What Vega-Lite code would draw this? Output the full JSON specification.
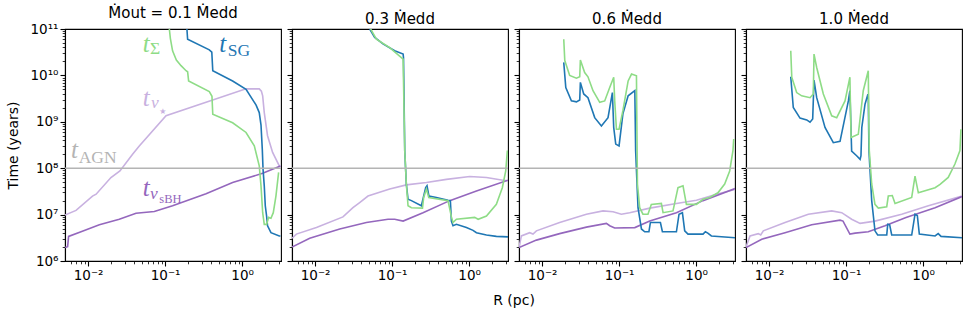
{
  "$schema": "https://vega.github.io/schema/vega-lite/v6.json",
  "background": "white",
  "padding": {"left": 6, "top": 5, "right": 3, "bottom": 1},
  "spacing": 11,
  "bounds": "flush",
  "data": {"values": [
    {"p":1,"k":"nustar","R":0.00501,"T":9.77e6},{"p":1,"k":"nustar","R":0.00697,"T":1.23e7},{"p":1,"k":"nustar","R":0.0114,"T":2.51e7},{"p":1,"k":"nustar","R":0.0127,"T":2.75e7},{"p":1,"k":"nustar","R":0.0198,"T":6.31e7},{"p":1,"k":"nustar","R":0.0259,"T":8.71e7},{"p":1,"k":"nustar","R":0.0378,"T":2.0e8},{"p":1,"k":"nustar","R":0.0462,"T":3.02e8},{"p":1,"k":"nustar","R":0.1028,"T":1.35e9},{"p":1,"k":"nustar","R":1.125,"T":5.13e9},{"p":1,"k":"nustar","R":1.67,"T":5.13e9},{"p":1,"k":"nustar","R":1.78,"T":4.57e9},{"p":1,"k":"nustar","R":1.85,"T":3.63e9},{"p":1,"k":"nustar","R":1.94,"T":1.58e9},{"p":1,"k":"nustar","R":2.14,"T":5.01e8},{"p":1,"k":"nustar","R":2.49,"T":2.19e8},{"p":1,"k":"nustar","R":3.04,"T":1.12e8},{"p":1,"k":"nustar","R":3.15,"T":1.08e8},
    {"p":1,"k":"nusbh","R":0.00501,"T":1.95e6},{"p":1,"k":"nusbh","R":0.00542,"T":2.04e6},{"p":1,"k":"nusbh","R":0.00558,"T":3.39e6},{"p":1,"k":"nusbh","R":0.00809,"T":4.27e6},{"p":1,"k":"nusbh","R":0.014,"T":6.03e6},{"p":1,"k":"nusbh","R":0.0254,"T":7.94e6},{"p":1,"k":"nusbh","R":0.0419,"T":1.07e7},{"p":1,"k":"nusbh","R":0.0724,"T":1.17e7},{"p":1,"k":"nusbh","R":0.125,"T":1.55e7},{"p":1,"k":"nusbh","R":0.34,"T":2.82e7},{"p":1,"k":"nusbh","R":0.753,"T":4.9e7},{"p":1,"k":"nusbh","R":1.85,"T":7.76e7},{"p":1,"k":"nusbh","R":3.15,"T":1.12e8},
    {"p":1,"k":"SG","R":0.192,"T":1e11},{"p":1,"k":"SG","R":0.196,"T":6.03e10},{"p":1,"k":"SG","R":0.375,"T":3.55e10},{"p":1,"k":"SG","R":0.404,"T":3.16e10},{"p":1,"k":"SG","R":0.416,"T":1.26e10},{"p":1,"k":"SG","R":0.753,"T":7.59e9},{"p":1,"k":"SG","R":1.125,"T":5.01e9},{"p":1,"k":"SG","R":1.52,"T":2.29e9},{"p":1,"k":"SG","R":1.67,"T":1.58e9},{"p":1,"k":"SG","R":1.76,"T":8.51e8},{"p":1,"k":"SG","R":1.83,"T":2.51e8},{"p":1,"k":"SG","R":1.87,"T":9.55e7},{"p":1,"k":"SG","R":1.94,"T":4.17e7},{"p":1,"k":"SG","R":2.0,"T":1.55e7},{"p":1,"k":"SG","R":2.08,"T":9.33e6},{"p":1,"k":"SG","R":2.14,"T":5.75e6},{"p":1,"k":"SG","R":2.37,"T":4.07e6},{"p":1,"k":"SG","R":3.04,"T":3.47e6},{"p":1,"k":"SG","R":3.15,"T":3.47e6},
    {"p":1,"k":"Sigma","R":0.1135,"T":1e11},{"p":1,"k":"Sigma","R":0.117,"T":6.31e10},{"p":1,"k":"Sigma","R":0.125,"T":3.39e10},{"p":1,"k":"Sigma","R":0.14,"T":2.14e10},{"p":1,"k":"Sigma","R":0.161,"T":1.62e10},{"p":1,"k":"Sigma","R":0.187,"T":1.26e10},{"p":1,"k":"Sigma","R":0.196,"T":1.2e10},{"p":1,"k":"Sigma","R":0.202,"T":7.59e9},{"p":1,"k":"Sigma","R":0.375,"T":4.47e9},{"p":1,"k":"Sigma","R":0.406,"T":3.55e9},{"p":1,"k":"Sigma","R":0.416,"T":1.45e9},{"p":1,"k":"Sigma","R":0.753,"T":9.55e8},{"p":1,"k":"Sigma","R":1.125,"T":5.89e8},{"p":1,"k":"Sigma","R":1.44,"T":3.02e8},{"p":1,"k":"Sigma","R":1.67,"T":1.12e8},{"p":1,"k":"Sigma","R":1.76,"T":4.17e7},{"p":1,"k":"Sigma","R":1.85,"T":1.1e7},{"p":1,"k":"Sigma","R":1.94,"T":6.17e6},{"p":1,"k":"Sigma","R":2.08,"T":6.17e6},{"p":1,"k":"Sigma","R":2.21,"T":8.71e6},{"p":1,"k":"Sigma","R":2.37,"T":8.32e6},{"p":1,"k":"Sigma","R":2.54,"T":1.1e7},{"p":1,"k":"Sigma","R":2.75,"T":2.51e7},{"p":1,"k":"Sigma","R":2.98,"T":8.13e7},
    {"p":2,"k":"nustar","R":0.00501,"T":3.09e6},{"p":2,"k":"nustar","R":0.00571,"T":3.8e6},{"p":2,"k":"nustar","R":0.0104,"T":5.25e6},{"p":2,"k":"nustar","R":0.023,"T":8.91e6},{"p":2,"k":"nustar","R":0.031,"T":1.41e7},{"p":2,"k":"nustar","R":0.0379,"T":1.82e7},{"p":2,"k":"nustar","R":0.0486,"T":2.51e7},{"p":2,"k":"nustar","R":0.0931,"T":3.55e7},{"p":2,"k":"nustar","R":0.153,"T":4.37e7},{"p":2,"k":"nustar","R":0.279,"T":4.9e7},{"p":2,"k":"nustar","R":0.507,"T":5.75e7},{"p":2,"k":"nustar","R":1.02,"T":6.61e7},{"p":2,"k":"nustar","R":1.68,"T":6.31e7},{"p":2,"k":"nustar","R":2.75,"T":5.5e7},{"p":2,"k":"nustar","R":3.2,"T":5.37e7},
    {"p":2,"k":"nusbh","R":0.00501,"T":2.0e6},{"p":2,"k":"nusbh","R":0.00851,"T":3.09e6},{"p":2,"k":"nusbh","R":0.0209,"T":4.9e6},{"p":2,"k":"nusbh","R":0.0463,"T":6.76e6},{"p":2,"k":"nusbh","R":0.0885,"T":7.94e6},{"p":2,"k":"nusbh","R":0.108,"T":7.94e6},{"p":2,"k":"nusbh","R":0.139,"T":7.24e6},{"p":2,"k":"nusbh","R":0.252,"T":1.1e7},{"p":2,"k":"nusbh","R":0.56,"T":2.0e7},{"p":2,"k":"nusbh","R":1.245,"T":3.24e7},{"p":2,"k":"nusbh","R":3.2,"T":5.5e7},
    {"p":2,"k":"SG","R":0.0512,"T":1e11},{"p":2,"k":"SG","R":0.0594,"T":6.61e10},{"p":2,"k":"SG","R":0.0762,"T":4.79e10},{"p":2,"k":"SG","R":0.108,"T":3.39e10},{"p":2,"k":"SG","R":0.139,"T":2.88e10},{"p":2,"k":"SG","R":0.1406,"T":2.4e10},{"p":2,"k":"SG","R":0.146,"T":2.34e8},{"p":2,"k":"SG","R":0.153,"T":4.57e7},{"p":2,"k":"SG","R":0.161,"T":2.14e7},{"p":2,"k":"SG","R":0.178,"T":2.0e7},{"p":2,"k":"SG","R":0.24,"T":1.55e7},{"p":2,"k":"SG","R":0.273,"T":3.8e7},{"p":2,"k":"SG","R":0.284,"T":4.17e7},{"p":2,"k":"SG","R":0.301,"T":2.51e7},{"p":2,"k":"SG","R":0.376,"T":2.34e7},{"p":2,"k":"SG","R":0.532,"T":2.04e7},{"p":2,"k":"SG","R":0.571,"T":2.0e7},{"p":2,"k":"SG","R":0.589,"T":7.24e6},{"p":2,"k":"SG","R":0.618,"T":5.75e6},{"p":2,"k":"SG","R":0.684,"T":6.17e6},{"p":2,"k":"SG","R":0.923,"T":5.25e6},{"p":2,"k":"SG","R":1.125,"T":4.57e6},{"p":2,"k":"SG","R":1.245,"T":4.07e6},{"p":2,"k":"SG","R":1.68,"T":3.63e6},{"p":2,"k":"SG","R":2.26,"T":3.39e6},{"p":2,"k":"SG","R":3.2,"T":3.31e6},
    {"p":2,"k":"Sigma","R":0.0527,"T":1e11},{"p":2,"k":"Sigma","R":0.0625,"T":6.03e10},{"p":2,"k":"Sigma","R":0.0931,"T":3.98e10},{"p":2,"k":"Sigma","R":0.139,"T":2.24e10},{"p":2,"k":"Sigma","R":0.146,"T":2.34e8},{"p":2,"k":"Sigma","R":0.153,"T":4.57e7},{"p":2,"k":"Sigma","R":0.161,"T":1.55e7},{"p":2,"k":"Sigma","R":0.178,"T":1.41e7},{"p":2,"k":"Sigma","R":0.248,"T":1.38e7},{"p":2,"k":"Sigma","R":0.257,"T":2.34e7},{"p":2,"k":"Sigma","R":0.279,"T":3.55e7},{"p":2,"k":"Sigma","R":0.299,"T":2.34e7},{"p":2,"k":"Sigma","R":0.532,"T":2.0e7},{"p":2,"k":"Sigma","R":0.589,"T":8.91e6},{"p":2,"k":"Sigma","R":0.618,"T":6.76e6},{"p":2,"k":"Sigma","R":0.684,"T":7.94e6},{"p":2,"k":"Sigma","R":1.18,"T":8.71e6},{"p":2,"k":"Sigma","R":1.31,"T":7.94e6},{"p":2,"k":"Sigma","R":1.68,"T":9.33e6},{"p":2,"k":"Sigma","R":2.26,"T":1.66e7},{"p":2,"k":"Sigma","R":2.7,"T":3.8e7},{"p":2,"k":"Sigma","R":2.99,"T":8.71e7},{"p":2,"k":"Sigma","R":3.14,"T":2.4e8},
    {"p":3,"k":"nustar","R":0.00501,"T":1.95e6},{"p":3,"k":"nustar","R":0.00538,"T":3.47e6},{"p":3,"k":"nustar","R":0.0069,"T":4.07e6},{"p":3,"k":"nustar","R":0.00762,"T":3.8e6},{"p":3,"k":"nustar","R":0.00843,"T":4.47e6},{"p":3,"k":"nustar","R":0.0169,"T":6.76e6},{"p":3,"k":"nustar","R":0.0376,"T":1.02e7},{"p":3,"k":"nustar","R":0.0618,"T":1.2e7},{"p":3,"k":"nustar","R":0.0834,"T":1.15e7},{"p":3,"k":"nustar","R":0.107,"T":1.02e7},{"p":3,"k":"nustar","R":0.137,"T":1.1e7},{"p":3,"k":"nustar","R":0.25,"T":1.38e7},{"p":3,"k":"nustar","R":0.555,"T":1.74e7},{"p":3,"k":"nustar","R":1.01,"T":2.04e7},{"p":3,"k":"nustar","R":1.84,"T":2.75e7},{"p":3,"k":"nustar","R":3.2,"T":3.47e7},
    {"p":3,"k":"nusbh","R":0.00501,"T":1.95e6},{"p":3,"k":"nusbh","R":0.00843,"T":2.82e6},{"p":3,"k":"nusbh","R":0.0169,"T":3.89e6},{"p":3,"k":"nusbh","R":0.0376,"T":5.37e6},{"p":3,"k":"nusbh","R":0.0684,"T":6.46e6},{"p":3,"k":"nusbh","R":0.0755,"T":5.75e6},{"p":3,"k":"nusbh","R":0.0877,"T":5.13e6},{"p":3,"k":"nusbh","R":0.16,"T":5.25e6},{"p":3,"k":"nusbh","R":0.25,"T":7.24e6},{"p":3,"k":"nusbh","R":0.555,"T":1.1e7},{"p":3,"k":"nusbh","R":1.23,"T":2.0e7},{"p":3,"k":"nusbh","R":3.2,"T":3.63e7},
    {"p":3,"k":"SG","R":0.0191,"T":1.91e10},{"p":3,"k":"SG","R":0.0203,"T":5.5e9},{"p":3,"k":"SG","R":0.024,"T":2.82e9},{"p":3,"k":"SG","R":0.0279,"T":2.69e9},{"p":3,"k":"SG","R":0.0308,"T":2.95e9},{"p":3,"k":"SG","R":0.0314,"T":7.08e9},{"p":3,"k":"SG","R":0.0347,"T":3.98e9},{"p":3,"k":"SG","R":0.0394,"T":3.31e9},{"p":3,"k":"SG","R":0.0482,"T":1.23e9},{"p":3,"k":"SG","R":0.0589,"T":8.13e8},{"p":3,"k":"SG","R":0.0718,"T":1.23e9},{"p":3,"k":"SG","R":0.0818,"T":4.27e9},{"p":3,"k":"SG","R":0.0851,"T":7.59e8},{"p":3,"k":"SG","R":0.0904,"T":3.31e8},{"p":3,"k":"SG","R":0.0998,"T":3.02e8},{"p":3,"k":"SG","R":0.112,"T":1.48e9},{"p":3,"k":"SG","R":0.131,"T":3.63e9},{"p":3,"k":"SG","R":0.16,"T":4.68e9},{"p":3,"k":"SG","R":0.164,"T":2.34e8},{"p":3,"k":"SG","R":0.176,"T":1.41e7},{"p":3,"k":"SG","R":0.195,"T":4.9e6},{"p":3,"k":"SG","R":0.215,"T":4.27e6},{"p":3,"k":"SG","R":0.244,"T":4.27e6},{"p":3,"k":"SG","R":0.255,"T":6.76e6},{"p":3,"k":"SG","R":0.344,"T":6.76e6},{"p":3,"k":"SG","R":0.365,"T":4.27e6},{"p":3,"k":"SG","R":0.555,"T":4.27e6},{"p":3,"k":"SG","R":0.6,"T":1.02e7},{"p":3,"k":"SG","R":0.664,"T":1.1e7},{"p":3,"k":"SG","R":0.711,"T":4.47e6},{"p":3,"k":"SG","R":0.785,"T":3.8e6},{"p":3,"k":"SG","R":1.23,"T":3.8e6},{"p":3,"k":"SG","R":1.32,"T":4.27e6},{"p":3,"k":"SG","R":1.42,"T":3.98e6},{"p":3,"k":"SG","R":1.58,"T":3.47e6},{"p":3,"k":"SG","R":3.2,"T":3.16e6},
    {"p":3,"k":"Sigma","R":0.0191,"T":6.03e10},{"p":3,"k":"Sigma","R":0.0197,"T":2.09e10},{"p":3,"k":"Sigma","R":0.0228,"T":1.0e10},{"p":3,"k":"Sigma","R":0.0279,"T":8.71e9},{"p":3,"k":"Sigma","R":0.0308,"T":9.33e9},{"p":3,"k":"Sigma","R":0.0314,"T":2.14e10},{"p":3,"k":"Sigma","R":0.0357,"T":1.15e10},{"p":3,"k":"Sigma","R":0.0394,"T":9.33e9},{"p":3,"k":"Sigma","R":0.0458,"T":4.68e9},{"p":3,"k":"Sigma","R":0.056,"T":2.63e9},{"p":3,"k":"Sigma","R":0.065,"T":2.82e9},{"p":3,"k":"Sigma","R":0.0755,"T":5.5e9},{"p":3,"k":"Sigma","R":0.0851,"T":9.12e9},{"p":3,"k":"Sigma","R":0.0877,"T":2.82e9},{"p":3,"k":"Sigma","R":0.0923,"T":6.92e8},{"p":3,"k":"Sigma","R":0.0998,"T":6.92e8},{"p":3,"k":"Sigma","R":0.112,"T":1.74e9},{"p":3,"k":"Sigma","R":0.131,"T":7.59e9},{"p":3,"k":"Sigma","R":0.145,"T":1.07e10},{"p":3,"k":"Sigma","R":0.168,"T":9.77e9},{"p":3,"k":"Sigma","R":0.17,"T":1.0e9},{"p":3,"k":"Sigma","R":0.173,"T":4.57e7},{"p":3,"k":"Sigma","R":0.185,"T":1.41e7},{"p":3,"k":"Sigma","R":0.204,"T":1.02e7},{"p":3,"k":"Sigma","R":0.237,"T":1.02e7},{"p":3,"k":"Sigma","R":0.262,"T":1.66e7},{"p":3,"k":"Sigma","R":0.354,"T":1.74e7},{"p":3,"k":"Sigma","R":0.372,"T":1.1e7},{"p":3,"k":"Sigma","R":0.501,"T":1.2e7},{"p":3,"k":"Sigma","R":0.582,"T":3.8e7},{"p":3,"k":"Sigma","R":0.676,"T":4.17e7},{"p":3,"k":"Sigma","R":0.748,"T":1.66e7},{"p":3,"k":"Sigma","R":1.01,"T":1.66e7},{"p":3,"k":"Sigma","R":1.23,"T":2.14e7},{"p":3,"k":"Sigma","R":1.5,"T":2.34e7},{"p":3,"k":"Sigma","R":1.92,"T":2.95e7},{"p":3,"k":"Sigma","R":2.35,"T":4.57e7},{"p":3,"k":"Sigma","R":2.73,"T":8.71e7},{"p":3,"k":"Sigma","R":3.01,"T":2.4e8},{"p":3,"k":"Sigma","R":3.08,"T":4.27e8},
    {"p":4,"k":"nustar","R":0.00501,"T":2.0e6},{"p":4,"k":"nustar","R":0.00565,"T":3.47e6},{"p":4,"k":"nustar","R":0.00724,"T":3.89e6},{"p":4,"k":"nustar","R":0.00778,"T":3.63e6},{"p":4,"k":"nustar","R":0.00841,"T":4.47e6},{"p":4,"k":"nustar","R":0.0161,"T":6.76e6},{"p":4,"k":"nustar","R":0.0323,"T":1.02e7},{"p":4,"k":"nustar","R":0.065,"T":1.2e7},{"p":4,"k":"nustar","R":0.0877,"T":1.1e7},{"p":4,"k":"nustar","R":0.118,"T":7.94e6},{"p":4,"k":"nustar","R":0.152,"T":6.46e6},{"p":4,"k":"nustar","R":0.237,"T":7.24e6},{"p":4,"k":"nustar","R":0.527,"T":1.02e7},{"p":4,"k":"nustar","R":1.17,"T":1.55e7},{"p":4,"k":"nustar","R":3.2,"T":2.51e7},
    {"p":4,"k":"nusbh","R":0.00501,"T":1.95e6},{"p":4,"k":"nusbh","R":0.00802,"T":2.95e6},{"p":4,"k":"nusbh","R":0.0161,"T":4.07e6},{"p":4,"k":"nusbh","R":0.0357,"T":6.03e6},{"p":4,"k":"nusbh","R":0.0834,"T":7.59e6},{"p":4,"k":"nusbh","R":0.0912,"T":7.24e6},{"p":4,"k":"nusbh","R":0.112,"T":3.8e6},{"p":4,"k":"nusbh","R":0.131,"T":3.98e6},{"p":4,"k":"nusbh","R":0.194,"T":4.27e6},{"p":4,"k":"nusbh","R":0.32,"T":5.75e6},{"p":4,"k":"nusbh","R":0.6,"T":8.71e6},{"p":4,"k":"nusbh","R":1.43,"T":1.41e7},{"p":4,"k":"nusbh","R":3.2,"T":2.45e7},
    {"p":4,"k":"SG","R":0.0191,"T":9.33e9},{"p":4,"k":"SG","R":0.0206,"T":2.04e9},{"p":4,"k":"SG","R":0.0252,"T":1.2e9},{"p":4,"k":"SG","R":0.0308,"T":1.1e9},{"p":4,"k":"SG","R":0.034,"T":9.77e8},{"p":4,"k":"SG","R":0.0368,"T":1.15e9},{"p":4,"k":"SG","R":0.0383,"T":7.94e9},{"p":4,"k":"SG","R":0.0415,"T":3.31e9},{"p":4,"k":"SG","R":0.0532,"T":7.59e8},{"p":4,"k":"SG","R":0.0682,"T":3.55e8},{"p":4,"k":"SG","R":0.0834,"T":3.8e8},{"p":4,"k":"SG","R":0.107,"T":2.82e9},{"p":4,"k":"SG","R":0.112,"T":4.68e9},{"p":4,"k":"SG","R":0.118,"T":2.34e8},{"p":4,"k":"SG","R":0.137,"T":1.86e8},{"p":4,"k":"SG","R":0.152,"T":1.55e8},{"p":4,"k":"SG","R":0.156,"T":1.86e8},{"p":4,"k":"SG","R":0.16,"T":7.59e8},{"p":4,"k":"SG","R":0.176,"T":2.4e9},{"p":4,"k":"SG","R":0.191,"T":3.8e9},{"p":4,"k":"SG","R":0.194,"T":3.8e9},{"p":4,"k":"SG","R":0.198,"T":2.34e8},{"p":4,"k":"SG","R":0.215,"T":2.0e7},{"p":4,"k":"SG","R":0.237,"T":4.47e6},{"p":4,"k":"SG","R":0.257,"T":3.63e6},{"p":4,"k":"SG","R":0.337,"T":3.63e6},{"p":4,"k":"SG","R":0.347,"T":6.17e6},{"p":4,"k":"SG","R":0.368,"T":6.03e6},{"p":4,"k":"SG","R":0.391,"T":3.63e6},{"p":4,"k":"SG","R":0.711,"T":3.63e6},{"p":4,"k":"SG","R":0.785,"T":1.02e7},{"p":4,"k":"SG","R":0.841,"T":9.55e6},{"p":4,"k":"SG","R":0.893,"T":3.8e6},{"p":4,"k":"SG","R":1.43,"T":3.47e6},{"p":4,"k":"SG","R":1.57,"T":3.89e6},{"p":4,"k":"SG","R":1.71,"T":3.39e6},{"p":4,"k":"SG","R":3.2,"T":3.16e6},
    {"p":4,"k":"Sigma","R":0.0191,"T":3.39e10},{"p":4,"k":"Sigma","R":0.0197,"T":9.12e9},{"p":4,"k":"Sigma","R":0.0228,"T":4.27e9},{"p":4,"k":"Sigma","R":0.0265,"T":3.63e9},{"p":4,"k":"Sigma","R":0.034,"T":3.31e9},{"p":4,"k":"Sigma","R":0.0375,"T":3.98e9},{"p":4,"k":"Sigma","R":0.0383,"T":2.88e10},{"p":4,"k":"Sigma","R":0.0415,"T":1.48e10},{"p":4,"k":"Sigma","R":0.0506,"T":3.98e9},{"p":4,"k":"Sigma","R":0.065,"T":1.35e9},{"p":4,"k":"Sigma","R":0.0755,"T":1.23e9},{"p":4,"k":"Sigma","R":0.0968,"T":2.82e9},{"p":4,"k":"Sigma","R":0.112,"T":9.12e9},{"p":4,"k":"Sigma","R":0.116,"T":4.57e8},{"p":4,"k":"Sigma","R":0.144,"T":5.37e8},{"p":4,"k":"Sigma","R":0.167,"T":4.68e9},{"p":4,"k":"Sigma","R":0.194,"T":1.26e10},{"p":4,"k":"Sigma","R":0.198,"T":6.31e8},{"p":4,"k":"Sigma","R":0.2,"T":2.4e8},{"p":4,"k":"Sigma","R":0.215,"T":4.57e7},{"p":4,"k":"Sigma","R":0.237,"T":1.66e7},{"p":4,"k":"Sigma","R":0.262,"T":1.38e7},{"p":4,"k":"Sigma","R":0.337,"T":1.48e7},{"p":4,"k":"Sigma","R":0.353,"T":2.51e7},{"p":4,"k":"Sigma","R":0.398,"T":2.57e7},{"p":4,"k":"Sigma","R":0.432,"T":1.74e7},{"p":4,"k":"Sigma","R":0.711,"T":2.34e7},{"p":4,"k":"Sigma","R":0.785,"T":6.76e7},{"p":4,"k":"Sigma","R":0.867,"T":2.95e7},{"p":4,"k":"Sigma","R":1.43,"T":3.8e7},{"p":4,"k":"Sigma","R":1.66,"T":4.47e7},{"p":4,"k":"Sigma","R":2.12,"T":6.31e7},{"p":4,"k":"Sigma","R":2.59,"T":1.23e8},{"p":4,"k":"Sigma","R":3.01,"T":2.4e8},{"p":4,"k":"Sigma","R":3.1,"T":6.92e8}
  ]},
  "hconcat": [
    {
      "width": 216, "height": 232,
      "title": {"text": "Ṁout = 0.1 Ṁedd"},
      "resolve": {"axis": {"x": "independent", "y": "independent"}},
      "layer": [
        {"transform": [{"filter": "datum.p == 1"}], "mark": {"type": "line", "strokeWidth": 1.6, "clip": true},
         "encoding": {
          "x": {"field": "R", "type": "quantitative", "scale": {"type": "log", "domain": [0.00501, 3.2]}, "axis": {"title": null, "values": [0.006,0.007,0.008,0.009,0.01,0.02,0.03,0.04,0.05,0.06,0.07,0.08,0.09,0.1,0.2,0.3,0.4,0.5,0.6,0.7,0.8,0.9,1,2,3], "labelExpr": "datum.value == 0.01 ? '10⁻²' : datum.value == 0.1 ? '10⁻¹' : datum.value == 1 ? '10⁰' : ''", "tickSize": {"condition": {"test": "datum.value == 0.01 || datum.value == 0.1 || datum.value == 1", "value": 5}, "value": 2.8}, "tickWidth": {"condition": {"test": "datum.value == 0.01 || datum.value == 0.1 || datum.value == 1", "value": 1.1}, "value": 0.8}, "labelPadding": 2, "labelOverlap": false, "labelFlush": false}},
          "y": {"field": "T", "type": "quantitative", "scale": {"type": "log", "domain": [1e6, 1e11]}, "axis": {"title": "Time (years)", "values": [1e6,2e6,3e6,4e6,5e6,6e6,7e6,8e6,9e6,1e7,2e7,3e7,4e7,5e7,6e7,7e7,8e7,9e7,1e8,2e8,3e8,4e8,5e8,6e8,7e8,8e8,9e8,1e9,2e9,3e9,4e9,5e9,6e9,7e9,8e9,9e9,1e10,2e10,3e10,4e10,5e10,6e10,7e10,8e10,9e10,1e11], "labelExpr": "datum.value == 1e6 ? '10⁶' : datum.value == 1e7 ? '10⁷' : datum.value == 1e8 ? '10⁸' : datum.value == 1e9 ? '10⁹' : datum.value == 1e10 ? '10¹⁰' : datum.value == 1e11 ? '10¹¹' : ''", "tickSize": {"condition": {"test": "indexof([1e6,1e7,1e8,1e9,1e10,1e11], datum.value) >= 0", "value": 5}, "value": 2.8}, "tickWidth": {"condition": {"test": "indexof([1e6,1e7,1e8,1e9,1e10,1e11], datum.value) >= 0", "value": 1.1}, "value": 0.8}, "labelPadding": 2, "titlePadding": 9, "labelOverlap": false}},
          "color": {"field": "k", "type": "nominal", "scale": {"domain": ["AGN", "nustar", "nusbh", "SG", "Sigma"], "range": ["#b4b4b4", "#c8b1e0", "#9467bd", "#1f77b4", "#8edc86"]}, "legend": null}
         }},
        {"data": {"values": [{"k": "AGN", "T": 1e8}]}, "mark": {"type": "rule", "strokeWidth": 1.5}, "encoding": {"y": {"field": "T", "type": "quantitative", "scale": {"type": "log", "domain": [1e6, 1e11]}, "axis": null}, "color": {"field": "k", "type": "nominal", "scale": {"domain": ["AGN", "nustar", "nusbh", "SG", "Sigma"], "range": ["#b4b4b4", "#c8b1e0", "#9467bd", "#1f77b4", "#8edc86"]}, "legend": null}}},
        {"data": {"values": [{"k": "Sigma", "R": 0.0511, "T": 3.13e10}, {"k": "SG", "R": 0.506, "T": 3.13e10}, {"k": "nustar", "R": 0.0511, "T": 2.21e9}, {"k": "AGN", "R": 0.006, "T": 1.7e8}, {"k": "nusbh", "R": 0.0511, "T": 2.53e7}]},
         "mark": {"type": "text", "text": "t", "font": "Liberation Serif", "fontStyle": "italic", "fontSize": 25, "align": "left", "baseline": "alphabetic"},
         "encoding": {"x": {"field": "R", "type": "quantitative", "scale": {"type": "log", "domain": [0.00501, 3.2]}, "axis": null}, "y": {"field": "T", "type": "quantitative", "scale": {"type": "log", "domain": [1e6, 1e11]}, "axis": null}, "color": {"field": "k", "type": "nominal", "scale": {"domain": ["AGN", "nustar", "nusbh", "SG", "Sigma"], "range": ["#b4b4b4", "#c8b1e0", "#9467bd", "#1f77b4", "#8edc86"]}, "legend": null}}},
        {"data": {"values": [{"k": "Sigma", "lab": "Σ", "R": 0.0637, "T": 2.88e10}, {"k": "SG", "lab": "SG", "R": 0.649, "T": 2.65e10}, {"k": "AGN", "lab": "AGN", "R": 0.00754, "T": 1.32e8}]},
         "mark": {"type": "text", "font": "Liberation Serif", "fontSize": 17.5, "align": "left", "baseline": "alphabetic"},
         "encoding": {"text": {"field": "lab"}, "x": {"field": "R", "type": "quantitative", "scale": {"type": "log", "domain": [0.00501, 3.2]}, "axis": null}, "y": {"field": "T", "type": "quantitative", "scale": {"type": "log", "domain": [1e6, 1e11]}, "axis": null}, "color": {"field": "k", "type": "nominal", "scale": {"domain": ["AGN", "nustar", "nusbh", "SG", "Sigma"], "range": ["#b4b4b4", "#c8b1e0", "#9467bd", "#1f77b4", "#8edc86"]}, "legend": null}}},
        {"data": {"values": [{"k": "nustar", "lab": "ν", "R": 0.0656, "T": 2.03e9}, {"k": "nusbh", "lab": "ν", "R": 0.0637, "T": 2.15e7}]},
         "mark": {"type": "text", "font": "Liberation Serif", "fontStyle": "italic", "fontSize": 17.5, "align": "left", "baseline": "alphabetic"},
         "encoding": {"text": {"field": "lab"}, "x": {"field": "R", "type": "quantitative", "scale": {"type": "log", "domain": [0.00501, 3.2]}, "axis": null}, "y": {"field": "T", "type": "quantitative", "scale": {"type": "log", "domain": [1e6, 1e11]}, "axis": null}, "color": {"field": "k", "type": "nominal", "scale": {"domain": ["AGN", "nustar", "nusbh", "SG", "Sigma"], "range": ["#b4b4b4", "#c8b1e0", "#9467bd", "#1f77b4", "#8edc86"]}, "legend": null}}},
        {"data": {"values": [{"k": "nustar", "lab": "★", "R": 0.0841, "T": 1.45e9}]},
         "mark": {"type": "text", "font": "DejaVu Sans", "fontSize": 8, "align": "left", "baseline": "alphabetic"},
         "encoding": {"text": {"field": "lab"}, "x": {"field": "R", "type": "quantitative", "scale": {"type": "log", "domain": [0.00501, 3.2]}, "axis": null}, "y": {"field": "T", "type": "quantitative", "scale": {"type": "log", "domain": [1e6, 1e11]}, "axis": null}, "color": {"field": "k", "type": "nominal", "scale": {"domain": ["AGN", "nustar", "nusbh", "SG", "Sigma"], "range": ["#b4b4b4", "#c8b1e0", "#9467bd", "#1f77b4", "#8edc86"]}, "legend": null}}},
        {"data": {"values": [{"k": "nusbh", "lab": "sBH", "R": 0.0841, "T": 1.82e7}]},
         "mark": {"type": "text", "font": "Liberation Serif", "fontSize": 12.5, "align": "left", "baseline": "alphabetic"},
         "encoding": {"text": {"field": "lab"}, "x": {"field": "R", "type": "quantitative", "scale": {"type": "log", "domain": [0.00501, 3.2]}, "axis": null}, "y": {"field": "T", "type": "quantitative", "scale": {"type": "log", "domain": [1e6, 1e11]}, "axis": null}, "color": {"field": "k", "type": "nominal", "scale": {"domain": ["AGN", "nustar", "nusbh", "SG", "Sigma"], "range": ["#b4b4b4", "#c8b1e0", "#9467bd", "#1f77b4", "#8edc86"]}, "legend": null}}}
      ]
    },
    {
      "width": 216, "height": 232,
      "title": {"text": "0.3 Ṁedd"},
      "resolve": {"axis": {"x": "independent", "y": "independent"}},
      "layer": [
        {"transform": [{"filter": "datum.p == 2"}], "mark": {"type": "line", "strokeWidth": 1.6, "clip": true},
         "encoding": {
          "x": {"field": "R", "type": "quantitative", "scale": {"type": "log", "domain": [0.00501, 3.2]}, "axis": {"title": "R (pc)", "titleX": 221.5, "titlePadding": 12, "values": [0.006,0.007,0.008,0.009,0.01,0.02,0.03,0.04,0.05,0.06,0.07,0.08,0.09,0.1,0.2,0.3,0.4,0.5,0.6,0.7,0.8,0.9,1,2,3], "labelExpr": "datum.value == 0.01 ? '10⁻²' : datum.value == 0.1 ? '10⁻¹' : datum.value == 1 ? '10⁰' : ''", "tickSize": {"condition": {"test": "datum.value == 0.01 || datum.value == 0.1 || datum.value == 1", "value": 5}, "value": 2.8}, "tickWidth": {"condition": {"test": "datum.value == 0.01 || datum.value == 0.1 || datum.value == 1", "value": 1.1}, "value": 0.8}, "labelPadding": 2, "labelOverlap": false, "labelFlush": false}},
          "y": {"field": "T", "type": "quantitative", "scale": {"type": "log", "domain": [1e6, 1e11]}, "axis": {"title": null, "labels": false, "values": [1e6,2e6,3e6,4e6,5e6,6e6,7e6,8e6,9e6,1e7,2e7,3e7,4e7,5e7,6e7,7e7,8e7,9e7,1e8,2e8,3e8,4e8,5e8,6e8,7e8,8e8,9e8,1e9,2e9,3e9,4e9,5e9,6e9,7e9,8e9,9e9,1e10,2e10,3e10,4e10,5e10,6e10,7e10,8e10,9e10,1e11], "tickSize": {"condition": {"test": "indexof([1e6,1e7,1e8,1e9,1e10,1e11], datum.value) >= 0", "value": 5}, "value": 2.8}, "tickWidth": {"condition": {"test": "indexof([1e6,1e7,1e8,1e9,1e10,1e11], datum.value) >= 0", "value": 1.1}, "value": 0.8}}},
          "color": {"field": "k", "type": "nominal", "scale": {"domain": ["AGN", "nustar", "nusbh", "SG", "Sigma"], "range": ["#b4b4b4", "#c8b1e0", "#9467bd", "#1f77b4", "#8edc86"]}, "legend": null}
         }},
        {"data": {"values": [{"k": "AGN", "T": 1e8}]}, "mark": {"type": "rule", "strokeWidth": 1.5}, "encoding": {"y": {"field": "T", "type": "quantitative", "scale": {"type": "log", "domain": [1e6, 1e11]}, "axis": null}, "color": {"field": "k", "type": "nominal", "scale": {"domain": ["AGN", "nustar", "nusbh", "SG", "Sigma"], "range": ["#b4b4b4", "#c8b1e0", "#9467bd", "#1f77b4", "#8edc86"]}, "legend": null}}}
      ]
    },
    {
      "width": 216, "height": 232,
      "title": {"text": "0.6 Ṁedd"},
      "resolve": {"axis": {"x": "independent", "y": "independent"}},
      "layer": [
        {"transform": [{"filter": "datum.p == 3"}], "mark": {"type": "line", "strokeWidth": 1.6, "clip": true},
         "encoding": {
          "x": {"field": "R", "type": "quantitative", "scale": {"type": "log", "domain": [0.00501, 3.2]}, "axis": {"title": null, "values": [0.006,0.007,0.008,0.009,0.01,0.02,0.03,0.04,0.05,0.06,0.07,0.08,0.09,0.1,0.2,0.3,0.4,0.5,0.6,0.7,0.8,0.9,1,2,3], "labelExpr": "datum.value == 0.01 ? '10⁻²' : datum.value == 0.1 ? '10⁻¹' : datum.value == 1 ? '10⁰' : ''", "tickSize": {"condition": {"test": "datum.value == 0.01 || datum.value == 0.1 || datum.value == 1", "value": 5}, "value": 2.8}, "tickWidth": {"condition": {"test": "datum.value == 0.01 || datum.value == 0.1 || datum.value == 1", "value": 1.1}, "value": 0.8}, "labelPadding": 2, "labelOverlap": false, "labelFlush": false}},
          "y": {"field": "T", "type": "quantitative", "scale": {"type": "log", "domain": [1e6, 1e11]}, "axis": {"title": null, "labels": false, "values": [1e6,2e6,3e6,4e6,5e6,6e6,7e6,8e6,9e6,1e7,2e7,3e7,4e7,5e7,6e7,7e7,8e7,9e7,1e8,2e8,3e8,4e8,5e8,6e8,7e8,8e8,9e8,1e9,2e9,3e9,4e9,5e9,6e9,7e9,8e9,9e9,1e10,2e10,3e10,4e10,5e10,6e10,7e10,8e10,9e10,1e11], "tickSize": {"condition": {"test": "indexof([1e6,1e7,1e8,1e9,1e10,1e11], datum.value) >= 0", "value": 5}, "value": 2.8}, "tickWidth": {"condition": {"test": "indexof([1e6,1e7,1e8,1e9,1e10,1e11], datum.value) >= 0", "value": 1.1}, "value": 0.8}}},
          "color": {"field": "k", "type": "nominal", "scale": {"domain": ["AGN", "nustar", "nusbh", "SG", "Sigma"], "range": ["#b4b4b4", "#c8b1e0", "#9467bd", "#1f77b4", "#8edc86"]}, "legend": null}
         }},
        {"data": {"values": [{"k": "AGN", "T": 1e8}]}, "mark": {"type": "rule", "strokeWidth": 1.5}, "encoding": {"y": {"field": "T", "type": "quantitative", "scale": {"type": "log", "domain": [1e6, 1e11]}, "axis": null}, "color": {"field": "k", "type": "nominal", "scale": {"domain": ["AGN", "nustar", "nusbh", "SG", "Sigma"], "range": ["#b4b4b4", "#c8b1e0", "#9467bd", "#1f77b4", "#8edc86"]}, "legend": null}}}
      ]
    },
    {
      "width": 216, "height": 232,
      "title": {"text": "1.0 Ṁedd"},
      "resolve": {"axis": {"x": "independent", "y": "independent"}},
      "layer": [
        {"transform": [{"filter": "datum.p == 4"}], "mark": {"type": "line", "strokeWidth": 1.6, "clip": true},
         "encoding": {
          "x": {"field": "R", "type": "quantitative", "scale": {"type": "log", "domain": [0.00501, 3.2]}, "axis": {"title": null, "values": [0.006,0.007,0.008,0.009,0.01,0.02,0.03,0.04,0.05,0.06,0.07,0.08,0.09,0.1,0.2,0.3,0.4,0.5,0.6,0.7,0.8,0.9,1,2,3], "labelExpr": "datum.value == 0.01 ? '10⁻²' : datum.value == 0.1 ? '10⁻¹' : datum.value == 1 ? '10⁰' : ''", "tickSize": {"condition": {"test": "datum.value == 0.01 || datum.value == 0.1 || datum.value == 1", "value": 5}, "value": 2.8}, "tickWidth": {"condition": {"test": "datum.value == 0.01 || datum.value == 0.1 || datum.value == 1", "value": 1.1}, "value": 0.8}, "labelPadding": 2, "labelOverlap": false, "labelFlush": false}},
          "y": {"field": "T", "type": "quantitative", "scale": {"type": "log", "domain": [1e6, 1e11]}, "axis": {"title": null, "labels": false, "values": [1e6,2e6,3e6,4e6,5e6,6e6,7e6,8e6,9e6,1e7,2e7,3e7,4e7,5e7,6e7,7e7,8e7,9e7,1e8,2e8,3e8,4e8,5e8,6e8,7e8,8e8,9e8,1e9,2e9,3e9,4e9,5e9,6e9,7e9,8e9,9e9,1e10,2e10,3e10,4e10,5e10,6e10,7e10,8e10,9e10,1e11], "tickSize": {"condition": {"test": "indexof([1e6,1e7,1e8,1e9,1e10,1e11], datum.value) >= 0", "value": 5}, "value": 2.8}, "tickWidth": {"condition": {"test": "indexof([1e6,1e7,1e8,1e9,1e10,1e11], datum.value) >= 0", "value": 1.1}, "value": 0.8}}},
          "color": {"field": "k", "type": "nominal", "scale": {"domain": ["AGN", "nustar", "nusbh", "SG", "Sigma"], "range": ["#b4b4b4", "#c8b1e0", "#9467bd", "#1f77b4", "#8edc86"]}, "legend": null}
         }},
        {"data": {"values": [{"k": "AGN", "T": 1e8}]}, "mark": {"type": "rule", "strokeWidth": 1.5}, "encoding": {"y": {"field": "T", "type": "quantitative", "scale": {"type": "log", "domain": [1e6, 1e11]}, "axis": null}, "color": {"field": "k", "type": "nominal", "scale": {"domain": ["AGN", "nustar", "nusbh", "SG", "Sigma"], "range": ["#b4b4b4", "#c8b1e0", "#9467bd", "#1f77b4", "#8edc86"]}, "legend": null}}}
      ]
    }
  ],
  "config": {
    "font": "DejaVu Sans",
    "view": {"stroke": "black", "strokeWidth": 1.1},
    "axis": {"labelFont": "DejaVu Sans", "titleFont": "DejaVu Sans", "labelFontSize": 13.5, "titleFontSize": 14, "titleFontWeight": "normal", "labelColor": "black", "titleColor": "black", "domainColor": "black", "domainWidth": 1.1, "tickColor": "black", "grid": false},
    "title": {"font": "DejaVu Sans", "fontSize": 15, "fontWeight": "normal", "color": "black", "offset": 1, "baseline": "alphabetic", "anchor": "middle", "frame": "group"}
  }
}
